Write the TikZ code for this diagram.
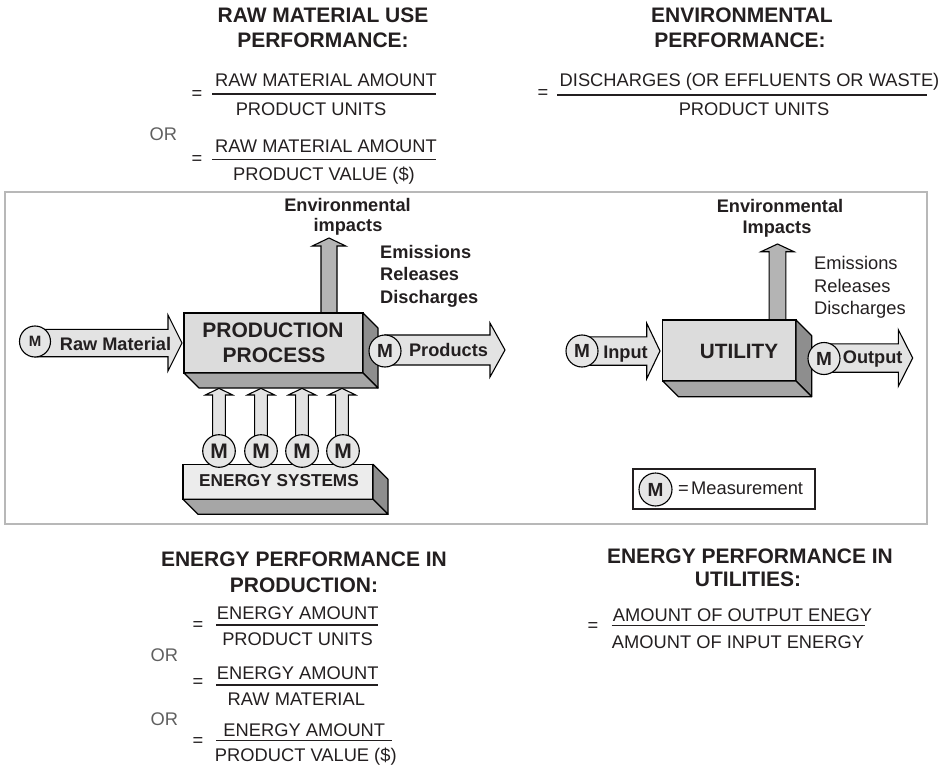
\documentclass[tikz,border=0pt]{standalone}
\usepackage{fontspec}
\setmainfont{Liberation Sans}
\usetikzlibrary{calc}

\definecolor{ink}{HTML}{231F20}
\definecolor{orgray}{HTML}{5F5F5F}
\definecolor{facelight}{HTML}{DCDCDC}
\definecolor{facepale}{HTML}{ECECEC}
\definecolor{sidedark}{HTML}{8E8E8E}
\definecolor{sidemid}{HTML}{A6A6A6}
\definecolor{arrowlight}{HTML}{E3E3E3}
\definecolor{arrowmid}{HTML}{B4B4B4}
\definecolor{meterfill}{HTML}{E6E6E6}
\definecolor{framegray}{HTML}{B8B8B8}

% horizontal block arrow: style, start x, tip x, centre y, shaft half width, head half width, head length
\newcommand\hblockarrow[7]{%
  \filldraw[#1] (#2,#4-#5) -- (#3-#7,#4-#5) -- (#3-#7,#4-#6) -- (#3,#4)
    -- (#3-#7,#4+#6) -- (#3-#7,#4+#5) -- (#2,#4+#5) -- cycle;}
% upward block arrow: style, centre x, bottom y, tip y, shaft half width, head half width, head length
\newcommand\vblockarrow[7]{%
  \filldraw[#1] (#2-#5,#3) -- (#2-#5,#4+#7) -- (#2-#6,#4+#7) -- (#2,#4)
    -- (#2+#6,#4+#7) -- (#2+#5,#4+#7) -- (#2+#5,#3) -- cycle;}
% side and bottom faces of a box drawn as a solid block
\newcommand\boxdepth[2]{%
  \filldraw[sideface] (#1.north east) -- ++(#2,#2) -- ($(#1.south east)+(#2,#2)$) -- (#1.south east) -- cycle;
  \filldraw[bottomface] (#1.south west) -- (#1.south east) -- ++(#2,#2) -- ($(#1.south west)+(#2,#2)$) -- cycle;}

\begin{document}
\begin{tikzpicture}[x=1pt,y=-1pt,
  headline/.style={font=\bfseries\fontsize{21}{24}\selectfont, text=ink, inner sep=0, anchor=base},
  formula/.style={font=\fontsize{18.3}{21}\selectfont, text=ink, inner sep=0, anchor=base},
  ortext/.style={formula, text=orgray},
  eqsign/.style={font=\fontsize{18.3}{21}\selectfont, text=ink, inner sep=0, anchor=center},
  fracline/.style={draw=ink, line width=1.3pt},
  flowtag/.style={font=\bfseries\fontsize{18.2}{21}\selectfont, text=ink, inner sep=0, anchor=base},
  plaintag/.style={font=\fontsize{18.3}{21}\selectfont, text=ink, inner sep=0, anchor=base west},
  boxtext/.style={font=\bfseries\fontsize{21}{24}\selectfont, text=ink, inner sep=0, anchor=base},
  frontface/.style={draw=black, line width=1.2pt, fill=facelight, inner sep=0, outer sep=0},
  sideface/.style={draw=black, line width=1.2pt, fill=sidedark, line join=round},
  bottomface/.style={draw=black, line width=1.2pt, fill=sidemid, line join=round},
  flowarrow/.style={draw=black, line width=1.1pt, fill=arrowlight, line join=miter},
  ventarrow/.style={flowarrow, fill=arrowmid},
  meter/.style={circle, draw=black, line width=1.1pt, fill=meterfill, inner sep=0, outer sep=0,
    minimum size=32pt, text=ink, font=\bfseries\fontsize{19}{19}\selectfont}]

\useasboundingbox (0,0) rectangle (946,768);

% ---------- raw material use performance ----------
\node[headline] (rmtitleA) at (323,23) {RAW MATERIAL USE};
\node[headline] (rmtitleB) at (323,48) {PERFORMANCE:};
\node[eqsign] (rmeqA) at (197,95) {=};
\draw[fracline] (212,94) -- (436,94);
\node[formula] (rmnumA) at (326,87) {RAW MATERIAL AMOUNT};
\node[formula] (rmdenA) at (311,115) {PRODUCT UNITS};
\node[ortext] (rmor) at (163.3,140) {OR};
\node[eqsign] (rmeqB) at (197,160) {=};
\draw[fracline] (212,159.5) -- (436,159.5);
\node[formula] (rmnumB) at (326,153) {RAW MATERIAL AMOUNT};
\node[formula] (rmdenB) at (324,180) {PRODUCT VALUE (\$)};

% ---------- environmental performance ----------
\node[headline] (envtitleA) at (742,23) {ENVIRONMENTAL};
\node[headline] (envtitleB) at (740,48) {PERFORMANCE:};
\node[eqsign] (enveq) at (543,94) {=};
\draw[fracline] (557,95) -- (927,95);
\node[formula] (envnum) at (749.5,87) {DISCHARGES (OR EFFLUENTS OR WASTE)};
\node[formula] (envden) at (754,115.5) {PRODUCT UNITS};

% ---------- frame ----------
\draw[framegray, line width=2pt] (5,192) rectangle (927,524);

% ---------- production side ----------
\vblockarrow{ventarrow}{329}{313}{238}{8}{16.7}{8}
\hblockarrow{flowarrow}{35}{182}{343}{13.7}{28}{14}
\foreach \ex in {219,261,302,342}
  \vblockarrow{flowarrow}{\ex}{451}{388.3}{6.4}{13.6}{6.7};

\node[frontface, minimum width=179pt, minimum height=60pt] (process) at (273.5,343) {};
\boxdepth{process}{15}
\node[boxtext] (processA) at (273,337.3) {PRODUCTION};
\node[boxtext] (processB) at (274,362.7) {PROCESS};

\hblockarrow{flowarrow}{385}{505}{350}{15}{27}{15}

\node[frontface, fill=facepale, minimum width=190pt, minimum height=35pt] (energy) at (278,481.8) {};
\boxdepth{energy}{15}
\node[boxtext, font=\bfseries\fontsize{17.2}{20}\selectfont] (energytxt) at (279,486.5) {ENERGY SYSTEMS};

\node[meter, minimum size=31pt, font=\bfseries\fontsize{15}{15}\selectfont] (mraw) at (35,341.5) {M};
\node[meter] (mprod) at (385,351) {M};
\node[meter, minimum size=32.6pt, font=\bfseries\fontsize{21}{21}\selectfont] (meA) at (219,451) {M};
\node[meter, minimum size=32.6pt, font=\bfseries\fontsize{21}{21}\selectfont] (meB) at (261,451) {M};
\node[meter, minimum size=32.6pt, font=\bfseries\fontsize{21}{21}\selectfont] (meC) at (302,451) {M};
\node[meter, minimum size=32.6pt, font=\bfseries\fontsize{21}{21}\selectfont] (meD) at (343,451) {M};

\node[flowtag] (envimpA) at (347.5,211.7) {Environmental};
\node[flowtag] (envimpB) at (348,231.5) {impacts};
\node[flowtag, anchor=base west] (emisA) at (380,258.3) {Emissions};
\node[flowtag, anchor=base west] (emisB) at (380,280.7) {Releases};
\node[flowtag, anchor=base west] (emisC) at (380,303.3) {Discharges};
\node[flowtag] (rawtxt) at (115.5,350) {Raw Material};
\node[flowtag] (prodtxt) at (448.5,356.7) {Products};

% ---------- utility side ----------
\vblockarrow{ventarrow}{777.5}{320}{244}{8.4}{16.5}{7.7}
\hblockarrow{flowarrow}{582}{660}{351}{14.2}{27.8}{13.3}

\node[frontface, minimum width=133.3pt, minimum height=61pt] (utility) at (729.3,350.5) {};
\boxdepth{utility}{15.7}
\node[boxtext, font=\bfseries\fontsize{20.7}{24}\selectfont] (utiltxt) at (739,358.3) {UTILITY};

\hblockarrow{flowarrow}{824}{912.7}{358}{14.2}{28.3}{14.4}

\node[meter] (min) at (582,351) {M};
\node[meter] (mout) at (824,358.5) {M};

\node[flowtag] (uenvA) at (780,212.7) {Environmental};
\node[flowtag] (uenvB) at (777,233.7) {Impacts};
\node[plaintag] (uemA) at (814,269.3) {Emissions};
\node[plaintag] (uemB) at (814,292.3) {Releases};
\node[plaintag] (uemC) at (814,314) {Discharges};
\node[flowtag] (inputtxt) at (625.5,358.3) {Input};
\node[flowtag] (outputtxt) at (872.7,363.3) {Output};

% ---------- key ----------
\node[draw=ink, line width=1.5pt, fill=white, minimum width=182pt, minimum height=40pt, inner sep=0] (legend) at (724,489) {};
\node[meter, minimum size=33pt] (mkey) at (655.5,489.5) {M};
\node[plaintag] (keytxt) at (678,494.3) {=\hspace{2.3pt}Measurement};

% ---------- energy performance in production ----------
\node[headline] (eptitleA) at (304,566) {ENERGY PERFORMANCE IN};
\node[headline] (eptitleB) at (304,592.7) {PRODUCTION:};
\node[eqsign] (epeqA) at (198,625.8) {=};
\draw[fracline] (216,625) -- (378,625);
\node[formula] (epnumA) at (297.7,619.3) {ENERGY AMOUNT};
\node[formula] (epdenA) at (297.5,645) {PRODUCT UNITS};
\node[ortext] (eporA) at (164.3,661.7) {OR};
\node[eqsign] (epeqB) at (198,682.7) {=};
\draw[fracline] (216,685) -- (378,685);
\node[formula] (epnumB) at (297.7,679.3) {ENERGY AMOUNT};
\node[formula] (epdenB) at (296.3,705) {RAW MATERIAL};
\node[ortext] (eporB) at (164.3,725) {OR};
\node[eqsign] (epeqC) at (198,741.7) {=};
\draw[fracline] (216,740.7) -- (391.7,740.7);
\node[formula] (epnumC) at (304.3,736) {ENERGY AMOUNT};
\node[formula] (epdenC) at (305.8,761.7) {PRODUCT VALUE (\$)};

% ---------- energy performance in utilities ----------
\node[headline] (eutitleA) at (750,563.3) {ENERGY PERFORMANCE IN};
\node[headline] (eutitleB) at (748,586.7) {UTILITIES:};
\node[eqsign] (eueq) at (593,627) {=};
\draw[fracline] (611.7,625.7) -- (865,625.7);
\node[formula] (eunum) at (742.5,621.7) {AMOUNT OF OUTPUT ENEGY};
\node[formula] (euden) at (738,648.3) {AMOUNT OF INPUT ENERGY};

\end{tikzpicture}
\end{document}
